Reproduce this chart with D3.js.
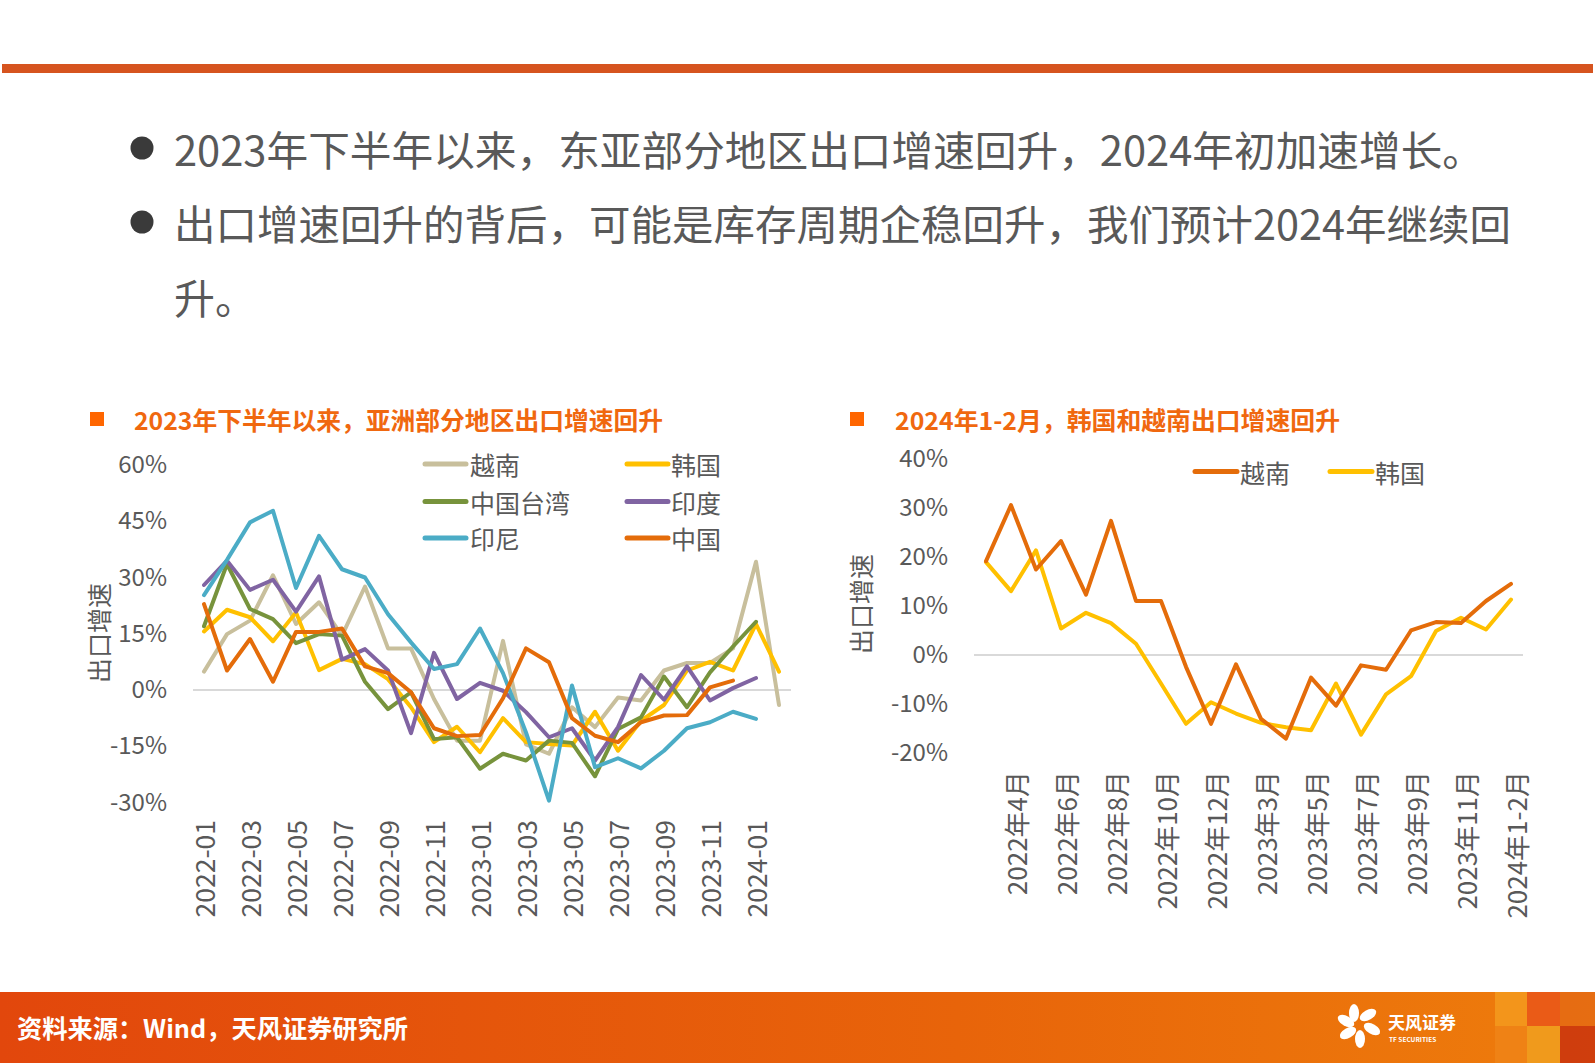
<!DOCTYPE html>
<html>
<head>
<meta charset="utf-8">
<script src="https://cdn.jsdelivr.net/npm/d3@7/dist/d3.min.js"></script>
<style>
  html, body { margin: 0; padding: 0; background: #fff; }
  svg { display: block; }
  text { font-family: "Noto Sans CJK SC", "Noto Sans", sans-serif; }
</style>
</head>
<body>
<svg id="chart" width="1595" height="1063"></svg>
<script>
// ---------------- DATA ----------------
const bulletLines = [
  "2023年下半年以来，东亚部分地区出口增速回升，2024年初加速增长。",
  "出口增速回升的背后，可能是库存周期企稳回升，我们预计2024年继续回",
  "升。"
];
const leftTitle = "2023年下半年以来，亚洲部分地区出口增速回升";
const rightTitle = "2024年1-2月，韩国和越南出口增速回升";
const yAxisTitle = "出口增速";
const sourceText = "资料来源：Wind，天风证券研究所";

// Left chart: monthly, 2022-01 .. 2024-02
const leftMonths = ["2022-01","2022-02","2022-03","2022-04","2022-05","2022-06","2022-07","2022-08","2022-09","2022-10","2022-11","2022-12",
  "2023-01","2023-02","2023-03","2023-04","2023-05","2023-06","2023-07","2023-08","2023-09","2023-10","2023-11","2023-12",
  "2024-01","2024-02"];
const leftYTicks = [60, 45, 30, 15, 0, -15, -30];
const vietnamL = [4.9, 14.9, 18.5, 30.6, 17.6, 23.4, 14.5, 27.6, 11.1, 11.1, -2.4, -13.5, -13.5, 13.1, -14.5, -17.0, -4.6, -9.9, -2.0, -2.8, 5.2, 7.2, 7.2, 11.1, 34.2, -4.0];
const koreaL   = [15.6, 21.4, 19.4, 13.0, 20.7, 5.3, 8.3, 6.9, 2.9, -4.6, -13.9, -9.8, -16.6, -7.5, -13.9, -14.4, -14.8, -5.8, -16.2, -8.2, -4.0, 5.2, 7.5, 5.2, 17.6, 4.9];
const taiwanL  = [17.0, 33.6, 21.6, 18.9, 12.5, 14.9, 14.5, 2.2, -5.1, -0.6, -13.1, -12.6, -21.0, -17.0, -18.8, -13.5, -14.1, -23.0, -10.4, -7.3, 3.6, -4.6, 4.7, 11.6, 18.2];
const indiaL   = [28.0, 34.5, 26.7, 29.4, 20.9, 30.3, 8.1, 10.9, 5.2, -11.5, 9.9, -2.4, 1.9, -0.2, -5.9, -12.6, -10.2, -18.8, -9.9, 4.0, -2.6, 6.3, -2.8, 0.5, 3.2];
const indonesiaL = [25.3, 34.7, 44.7, 47.8, 27.2, 41.1, 32.2, 30.0, 20.2, 12.7, 5.6, 6.9, 16.4, 4.5, -11.3, -29.5, 1.2, -20.6, -18.2, -20.9, -16.2, -10.2, -8.6, -5.8, -7.7];
const chinaL   = [22.9, 5.2, 13.6, 2.2, 15.5, 15.5, 16.4, 6.3, 4.5, -0.6, -10.2, -12.3, -12.0, -2.2, 11.1, 7.4, -7.5, -12.2, -13.9, -8.6, -6.8, -6.7, 0.7, 2.5];
const leftSeriesNames = ["越南", "韩国", "中国台湾", "印度", "印尼", "中国"];
const leftColors = ["#C8BF9C", "#FFC000", "#77933C", "#8064A2", "#4BACC6", "#E46C0A"];

// Right chart
const rightCats = ["2022年3月","2022年4月","2022年5月","2022年6月","2022年7月","2022年8月","2022年9月","2022年10月","2022年11月","2022年12月",
  "2023年1-2月","2023年3月","2023年4月","2023年5月","2023年6月","2023年7月","2023年8月","2023年9月","2023年10月","2023年11月","2023年12月","2024年1-2月"];
const rightYTicks = [40, 30, 20, 10, 0, -10, -20];
const vietnamR = [19.1, 30.5, 17.4, 23.2, 12.3, 27.3, 11.0, 11.0, -2.4, -14.0, -1.9, -13.0, -17.0, -4.6, -10.3, -2.1, -3.0, 5.0, 6.7, 6.5, 11.0, 14.5];
const koreaR   = [18.9, 13.0, 21.3, 5.4, 8.6, 6.5, 2.3, -5.8, -14.0, -9.6, -11.9, -13.8, -14.7, -15.3, -5.8, -16.2, -8.0, -4.3, 4.9, 7.6, 5.2, 11.3];
const rightSeriesNames = ["越南", "韩国"];
const rightColors = ["#E46C0A", "#FFC000"];

// ---------------- DRAW ----------------
const svg = d3.select("#chart");
const TXT = "#595959";
svg.append("rect").attr("width", 1595).attr("height", 1063).attr("fill", "#fff");

// header bar
svg.append("rect").attr("x", 2).attr("y", 64).attr("width", 1591).attr("height", 9).attr("fill", "#D6541F");

// bullets
const bulletY = [148, 222, 296];
const bulletLen = [1310, 1337, null];
bulletLines.forEach((t, i) => {
  if (i < 2) svg.append("circle").attr("cx", 142).attr("cy", bulletY[i]).attr("r", 11.5).attr("fill", "#3A3A3A");
  const tx = svg.append("text").attr("x", 174).attr("y", bulletY[i]).attr("dominant-baseline", "central")
    .attr("font-size", 41).attr("fill", TXT).text(t);
  if (bulletLen[i]) tx.attr("textLength", bulletLen[i]).attr("lengthAdjust", "spacingAndGlyphs");
});

// chart titles
function chartTitle(x, sqx, y, t, len) {
  svg.append("rect").attr("x", sqx).attr("y", y - 7).attr("width", 14).attr("height", 14).attr("fill", "#FF6600");
  svg.append("text").attr("x", x).attr("y", y).attr("dominant-baseline", "central")
    .attr("font-size", 24.5).attr("font-weight", "bold").attr("fill", "#F0680F")
    .attr("textLength", len).attr("lengthAdjust", "spacingAndGlyphs").text(t);
}
chartTitle(134, 90, 419, leftTitle, 529);
chartTitle(895, 850, 419, rightTitle, 445);

// ---------- Left chart ----------
const xL = d3.scalePoint().domain(leftMonths).range([204, 779]);
const yL = d3.scaleLinear().domain([-30, 60]).range([802.5, 465]);

const gL = svg.append("g");
const yAxisL = d3.axisLeft(yL).tickValues(leftYTicks).tickSize(0).tickPadding(0).tickFormat(d => d + "%");
const yAxL = gL.append("g").attr("transform", "translate(167,0)").call(yAxisL);
yAxL.select(".domain").remove();
yAxL.selectAll("text").attr("font-size", 24).attr("fill", TXT).attr("font-family", "Noto Sans CJK SC");
gL.append("line").attr("x1", 193).attr("x2", 791).attr("y1", yL(0)).attr("y2", yL(0))
  .attr("stroke", "#D9D9D9").attr("stroke-width", 2);
const xAxisL = d3.axisBottom(xL).tickValues(leftMonths.filter((d, i) => i % 2 === 0 && i <= 24)).tickSize(0).tickPadding(0);
const xAxL = gL.append("g").attr("transform", "translate(0,820)").call(xAxisL);
xAxL.select(".domain").remove();
xAxL.selectAll("text").attr("font-size", 26.5).attr("fill", TXT).attr("font-family", "Noto Sans CJK SC")
  .attr("text-anchor", "end").attr("transform", "rotate(-90)").attr("x", 0).attr("y", 0).attr("dy", "0.38em");
gL.append("text").attr("transform", "translate(98,633) rotate(-90)").attr("text-anchor", "middle")
  .attr("dominant-baseline", "central").attr("font-size", 25).attr("fill", TXT).text(yAxisTitle);

const leftSeries = [vietnamL, koreaL, taiwanL, indiaL, indonesiaL, chinaL];
const lineL = d3.line().x((d, i) => xL(leftMonths[i])).y(d => yL(d));
leftSeries.forEach((s, k) => {
  gL.append("path").datum(s).attr("d", lineL).attr("fill", "none").attr("stroke", leftColors[k])
    .attr("stroke-width", 4).attr("stroke-linejoin", "round").attr("stroke-linecap", "round");
});
const legL = [[425, 470, 464], [627, 671, 464], [425, 470, 501.5], [627, 671, 501.5], [425, 470, 538], [627, 671, 538]];
leftSeriesNames.forEach((n, k) => {
  const [lx, tx, ly] = legL[k];
  gL.append("line").attr("x1", lx).attr("x2", lx + 41).attr("y1", ly).attr("y2", ly)
    .attr("stroke", leftColors[k]).attr("stroke-width", 5).attr("stroke-linecap", "round");
  gL.append("text").attr("x", tx).attr("y", ly).attr("dominant-baseline", "central")
    .attr("font-size", 25).attr("fill", TXT).text(n);
});

// ---------- Right chart ----------
const xR = d3.scalePoint().domain(rightCats).range([986, 1511]);
const yR = d3.scaleLinear().domain([-20, 40]).range([753.3, 458.5]);
const gR = svg.append("g");
const yAxisR = d3.axisLeft(yR).tickValues(rightYTicks).tickSize(0).tickPadding(0).tickFormat(d => d + "%");
const yAxR = gR.append("g").attr("transform", "translate(948,0)").call(yAxisR);
yAxR.select(".domain").remove();
yAxR.selectAll("text").attr("font-size", 24).attr("fill", TXT).attr("font-family", "Noto Sans CJK SC");
gR.append("line").attr("x1", 974).attr("x2", 1523).attr("y1", yR(0)).attr("y2", yR(0))
  .attr("stroke", "#D9D9D9").attr("stroke-width", 2);
const xAxisR = d3.axisBottom(xR).tickValues(rightCats.filter((d, i) => i % 2 === 1)).tickSize(0).tickPadding(0);
const xAxR = gR.append("g").attr("transform", "translate(0,771)").call(xAxisR);
xAxR.select(".domain").remove();
xAxR.selectAll("text").attr("font-size", 26).attr("fill", TXT).attr("font-family", "Noto Sans CJK SC")
  .attr("text-anchor", "end").attr("transform", "rotate(-90)").attr("x", 0).attr("y", 0).attr("dy", "0.6em");
gR.append("text").attr("transform", "translate(860,604) rotate(-90)").attr("text-anchor", "middle")
  .attr("dominant-baseline", "central").attr("font-size", 25).attr("fill", TXT).text(yAxisTitle);

const rightSeries = [vietnamR, koreaR];
const lineR = d3.line().x((d, i) => xR(rightCats[i])).y(d => yR(d));
[1, 0].forEach(k => {
  gR.append("path").datum(rightSeries[k]).attr("d", lineR).attr("fill", "none").attr("stroke", rightColors[k])
    .attr("stroke-width", 4).attr("stroke-linejoin", "round").attr("stroke-linecap", "round");
});
const legR = [[1195, 1240, 471.5], [1330, 1375, 471.5]];
rightSeriesNames.forEach((n, k) => {
  const [lx, tx, ly] = legR[k];
  gR.append("line").attr("x1", lx).attr("x2", lx + 42).attr("y1", ly).attr("y2", ly)
    .attr("stroke", rightColors[k]).attr("stroke-width", 5).attr("stroke-linecap", "round");
  gR.append("text").attr("x", tx).attr("y", ly).attr("dominant-baseline", "central")
    .attr("font-size", 25).attr("fill", TXT).text(n);
});

// ---------- Footer ----------
const defs = svg.append("defs");
const grad = defs.append("linearGradient").attr("id", "foot").attr("x1", "0").attr("x2", "1").attr("y1", "0").attr("y2", "0");
grad.append("stop").attr("offset", "0").attr("stop-color", "#E2470C");
grad.append("stop").attr("offset", "0.6").attr("stop-color", "#E8640A");
grad.append("stop").attr("offset", "1").attr("stop-color", "#EE7D0C");
svg.append("rect").attr("x", 0).attr("y", 992).attr("width", 1595).attr("height", 71).attr("fill", "url(#foot)");
const blocks = [
  [1495, 992, 32, 34, "#F39A1E"], [1527, 992, 33, 34, "#E9561A"], [1560, 992, 35, 34, "#E46A14"],
  [1495, 1026, 32, 37, "#EE8418"], [1527, 1026, 33, 37, "#F0A020"], [1560, 1026, 35, 37, "#C9320E"]
];
blocks.forEach(b => svg.append("rect").attr("x", b[0]).attr("y", b[1]).attr("width", b[2]).attr("height", b[3]).attr("fill", b[4]).attr("opacity", 0.85));
svg.append("text").attr("x", 17).attr("y", 1027).attr("dominant-baseline", "central")
  .attr("font-size", 25).attr("font-weight", "bold").attr("fill", "#fff")
  .attr("textLength", 391).attr("lengthAdjust", "spacingAndGlyphs").text(sourceText);
const logo = svg.append("g").attr("transform", "translate(1362,1027)");
[[-8,-14,0],[6,-12,60],[10,2,120],[-2,12,180],[-14,6,240],[-16,-6,300]].forEach(p => {
  logo.append("ellipse").attr("cx", p[0]).attr("cy", p[1]).attr("rx", 5).attr("ry", 9)
    .attr("transform", `rotate(${p[2]},${p[0]},${p[1]})`).attr("fill", "#fff");
});
svg.append("text").attr("x", 1388).attr("y", 1021).attr("dominant-baseline", "central")
  .attr("font-size", 17).attr("font-weight", "bold").attr("fill", "#fff").text("天风证券");
svg.append("text").attr("x", 1389).attr("y", 1039).attr("dominant-baseline", "central")
  .attr("font-size", 6.5).attr("font-weight", "bold").attr("fill", "#fff").text("TF SECURITIES");
</script>
</body>
</html>
